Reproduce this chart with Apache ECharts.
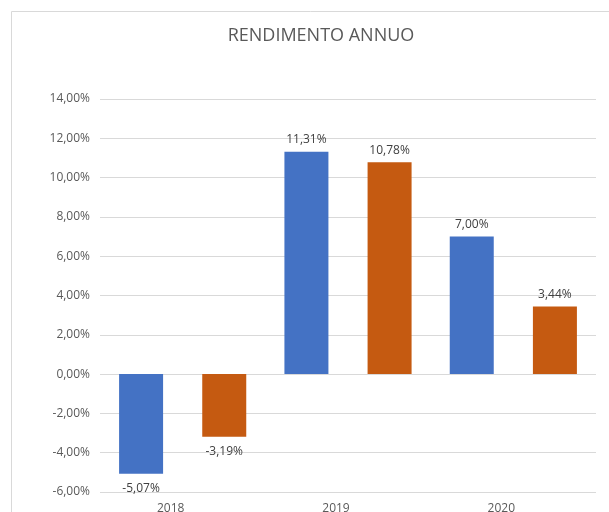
<!DOCTYPE html>
<html><head><meta charset="utf-8">
<script src="https://cdn.jsdelivr.net/npm/echarts@6/dist/echarts.min.js"></script>
<style>html,body{margin:0;padding:0;background:#fff}#c{width:609px;height:512px}</style>
</head><body><div id="c"></div>
<script>
var categories = ['2018', '2019', '2020'];
var seriesA = [-5.07, 11.31, 7.00];
var seriesB = [-3.19, 10.78, 3.44];
var yMin = -6, yMax = 14, yStep = 2;

function fmt(v) { return v.toFixed(2).replace('.', ',') + '%'; }
function mk(arr) {
  return arr.map(function (v) {
    return { value: v, label: { position: v < 0 ? 'bottom' : 'top', distance: v < 0 ? 9 : 6 } };
  });
}
var font = 'Open Sans';
var chart = echarts.init(document.getElementById('c'));
chart.setOption({
  animation: false,
  textStyle: { fontFamily: font },
  graphic: [{ type: 'rect', shape: { x: 11.5, y: 11.5, width: 700, height: 700 },
    style: { fill: 'none', stroke: '#d9d9d9', lineWidth: 1 }, silent: true }],
  title: { text: 'RENDIMENTO ANNUO', left: 316, top: 22, textAlign: 'center',
    textStyle: { fontFamily: font, fontSize: 18, fontWeight: 'normal', color: '#595959' } },
  grid: { left: 100, right: 13, top: 99, bottom: 20, containLabel: false, outerBoundsMode: 'none' },
  xAxis: { type: 'category', data: categories,
    axisLine: { show: false, onZero: false }, axisTick: { show: false },
    axisLabel: { color: '#595959', fontSize: 12, margin: 11, fontFamily: font,
      padding: [0, 24, 0, 0] } },
  yAxis: { type: 'value', min: yMin, max: yMax, interval: yStep,
    axisLine: { show: false }, axisTick: { show: false },
    splitLine: { lineStyle: { color: '#d9d9d9', width: 1 } },
    axisLabel: { color: '#595959', fontSize: 12, margin: 10, fontFamily: font,
      formatter: function (v) { return fmt(v); } } },
  series: [
    { type: 'bar', data: mk(seriesA), barWidth: 44, barGap: '89%',
      itemStyle: { color: '#4472C4' },
      label: { show: true, color: '#404040', fontSize: 12, fontFamily: font,
        formatter: function (p) { return fmt(p.value); } } },
    { type: 'bar', data: mk(seriesB), barWidth: 44, barGap: '89%',
      itemStyle: { color: '#C55A11' },
      label: { show: true, color: '#404040', fontSize: 12, fontFamily: font,
        formatter: function (p) { return fmt(p.value); } } }
  ]
});
</script></body></html>
